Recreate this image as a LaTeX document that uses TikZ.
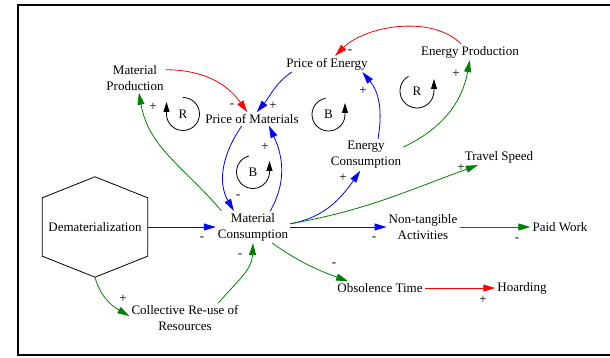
\documentclass[tikz,border=0pt]{standalone}
\usepackage{fontspec}
\setmainfont{Liberation Serif}
\usetikzlibrary{arrows.meta}
\definecolor{darkgreen}{RGB}{0,128,0}
\begin{document}
\begin{tikzpicture}[x=1pt,y=1pt,
  var/.style={font=\fontsize{13}{16}\selectfont,align=center,inner sep=2pt},
  sgn/.style={font=\fontsize{13}{16}\selectfont,inner sep=0pt},
  lnk/.style={line width=0.8pt,-{Triangle[length=12pt,width=7pt]}},
  loopar/.style={line width=0.8pt,-{Triangle[length=10pt,width=6pt]}}]
\useasboundingbox (0,0) rectangle (610,-358);
\draw [line width=2pt] (18,-5) rectangle (614,-355);
\node[var] (mp) at (135,-78) {Material\\Production};
\node[var] (pmat) at (252,-119) {Price of Materials};
\node[var] (pen) at (327,-64) {Price of Energy};
\node[var] (epr) at (470,-52) {Energy Production};
\node[var] (econ) at (366,-155) {Energy\\Consumption};
\node[var] (ts) at (499,-157) {Travel Speed};
\node[var,minimum width=105pt,minimum height=100pt] (demat) at (95,-227) {Dematerialization};
\node[var] (mc) at (253,-227) {Material\\Consumption};
\node[var] (cr) at (185,-318) {Collective Re-use of\\Resources};
\node[var] (nta) at (423,-227) {Non-tangible\\Activities};
\node[var] (pw) at (560,-227) {Paid Work};
\node[var] (ot) at (380,-288) {Obsolence Time};
\node[var] (hoard) at (522,-288) {Hoarding};
\draw [line width=0.8pt] (demat.north) -- ([yshift=-21pt]demat.north east) -- ([yshift=21pt]demat.south east) -- (demat.south) -- ([yshift=21pt]demat.south west) -- ([yshift=-21pt]demat.north west) -- cycle;
\draw [lnk,red] (mp.15) to[out=0,in=125] (pmat.125);
\draw [lnk,blue] (pen.193) to[out=215,in=50] (pmat.55);
\draw [lnk,blue] (pmat.214) to[out=235,in=120] (mc.140);
\draw [lnk,blue] (mc.43) to[out=60,in=-65] (pmat.-22);
\draw [lnk,darkgreen] (mc.153) to[out=130,in=-80] (mp.-75);
\draw [lnk,blue] (demat.east) -- (mc.west);
\draw [lnk,darkgreen] (demat.south) to[out=-75,in=150] (cr.178);
\draw [lnk,darkgreen] (cr.24) to[out=50,in=-92] (mc.south);
\draw [lnk,blue] (mc.5) to[out=10,in=235] (econ.250);
\draw [lnk,blue] (econ.53) to[out=80,in=-50] (pen.-13);
\draw [lnk,darkgreen] (econ.12) to[out=25,in=-100] (epr.-92);
\draw [lnk,red] (epr.138) to[out=135,in=45,looseness=0.85] (pen.45);
\draw [lnk,darkgreen] (mc.5) to[out=10,in=200] (ts.201);
\draw [lnk,blue] (mc.east) -- (nta.west);
\draw [lnk,darkgreen] (nta.east) -- (pw.west);
\draw [lnk,darkgreen] (mc.-40) to[out=-35,in=160] (ot.168);
\draw [lnk,red] (ot.east) -- (hoard.west);
\node[sgn] (s1) at (232,-106) {-};
\node[sgn] (s2) at (273,-106) {+};
\node[sgn] (s3) at (238,-197) {-};
\node[sgn] (s4) at (265,-147) {+};
\node[sgn] (s5) at (153,-107) {+};
\node[sgn] (s6) at (202,-239) {-};
\node[sgn] (s7) at (123,-299) {+};
\node[sgn] (s8) at (240,-256) {-};
\node[sgn] (s9) at (343,-178) {+};
\node[sgn] (s10) at (363,-91) {+};
\node[sgn] (s11) at (456,-74) {+};
\node[sgn] (s12) at (350,-52) {-};
\node[sgn] (s13) at (461,-168) {+};
\node[sgn] (s14) at (374,-239) {-};
\node[sgn] (s15) at (517,-240) {-};
\node[sgn] (s16) at (334,-265) {-};
\node[sgn] (s17) at (483,-300) {+};
\node[var] (r1) at (183,-114) {R};
\node[var] (b1) at (253,-172) {B};
\node[var] (b2) at (328.5,-114.5) {B};
\node[var] (r2) at (417,-91) {R};
\draw [loopar] (r1.center) ++(0,16.5) arc[start angle=90,end angle=-180,radius=16.5] -- ++(0,12);
\draw [loopar] (b1.center) ++(105:16.5) arc[start angle=105,end angle=360,radius=16.5] -- ++(0,11);
\draw [loopar] (b2.center) ++(100:16.5) arc[start angle=100,end angle=360,radius=16.5] -- ++(0,11.5);
\draw [loopar] (r2.center) ++(120:17) arc[start angle=120,end angle=360,radius=17] -- ++(0,12);
\end{tikzpicture}
\end{document}
